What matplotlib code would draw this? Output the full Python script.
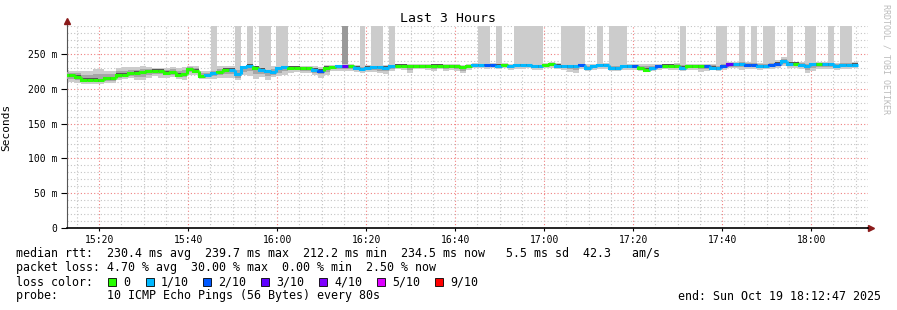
import numpy as np
import matplotlib
matplotlib.use("Agg")
import matplotlib.pyplot as plt
from matplotlib.patches import Rectangle

# x axis is minutes after 15:00, window ends 18:12:47
x_start = 12 + 47 / 60
x_end = x_start + 180
step = 80 / 60              # one ping round every 80 s
first_end = 13 + 11 / 60    # end of the first (clipped) round

# median rtt per round (ms)
median = [219, 219, 217, 213, 213, 213, 212, 215, 215, 220, 220, 222, 223, 224, 225, 226, 226, 223, 224, 220,
          221, 228, 226, 218, 219, 222, 224, 227, 227, 221, 231, 233, 230, 227, 225, 224, 229, 231, 230, 230,
          229, 229, 227, 226, 230, 231, 232, 232, 232, 230, 228, 230, 231, 231, 230, 232, 233, 233, 232, 232,
          232, 232, 233, 233, 232, 232, 232, 231, 232, 234, 234, 234, 234, 233, 234, 232, 234, 234, 234, 232,
          232, 234, 235, 233, 232, 232, 232, 234, 229, 232, 234, 234, 229, 229, 232, 232, 232, 229, 227, 229,
          232, 233, 233, 232, 230, 232, 232, 232, 232, 230, 229, 232, 235, 235, 235, 234, 234, 232, 232, 234,
          236, 239.7, 236, 236, 234, 232, 235, 235, 235, 235, 232, 234, 234, 234.5]

# lost pings out of 10 per round
loss = [0, 0, 0, 0, 0, 0, 0, 0, 0, 0, 0, 0, 0, 0, 0, 0, 0, 0, 0, 0,
        0, 0, 0, 0, 1, 1, 0, 0, 1, 1, 1, 1, 0, 1, 1, 1, 1, 1, 0, 0,
        0, 0, 1, 2, 0, 0, 1, 3, 0, 1, 1, 1, 1, 1, 1, 1, 0, 0, 0, 0,
        0, 0, 0, 0, 0, 0, 0, 0, 0, 1, 1, 2, 2, 1, 0, 1, 1, 1, 1, 1,
        1, 0, 0, 1, 1, 1, 1, 2, 1, 1, 1, 1, 1, 1, 1, 1, 2, 0, 0, 1,
        2, 0, 0, 0, 1, 0, 0, 0, 2, 1, 1, 2, 3, 1, 1, 2, 2, 1, 1, 2,
        2, 1, 1, 0, 1, 1, 1, 0, 1, 1, 1, 1, 1, 1]

# smoke: lowest and highest ping of the round (ms)
lo = [210, 209, 208, 207, 207, 207, 207, 208, 208, 212, 214, 215, 213, 212, 215, 218, 216, 216, 217, 214,
      213, 220, 219, 214, 214, 214, 215, 216, 215, 212, 219, 218, 214, 217, 213, 217, 218, 220, 223, 224,
      222, 223, 220, 216, 220, 225, 226, 226, 226, 224, 222, 224, 224, 222, 221, 226, 228, 227, 223, 228,
      228, 227, 225, 228, 226, 227, 226, 222, 227, 229, 229, 228, 229, 228, 229, 227, 228, 228, 229, 227,
      227, 229, 230, 228, 227, 224, 223, 228, 226, 227, 228, 228, 226, 226, 227, 227, 227, 226, 224, 226,
      227, 228, 227, 227, 226, 227, 227, 224, 226, 227, 225, 227, 229, 229, 227, 228, 228, 227, 228, 228,
      230, 232, 229, 229, 228, 223, 226, 228, 228, 228, 227, 228, 228, 229]
hi = [227, 226, 226, 226, 226, 228, 228, 226, 225, 229, 231, 231, 231, 232, 231, 230, 230, 230, 231, 229,
      231, 233, 232, 225, 226, 228, 232, 232, 233, 232, 233, 234, 232, 230, 229, 232, 233, 234, 233, 233,
      232, 233, 232, 231, 234, 234, 234, 236, 235, 234, 233, 234, 234, 233, 234, 235, 236, 236, 235, 235,
      235, 236, 236, 235, 235, 235, 235, 234, 235, 237, 237, 237, 237, 237, 237, 236, 237, 237, 236, 236,
      236, 237, 238, 237, 236, 236, 236, 237, 236, 236, 237, 237, 236, 235, 236, 236, 236, 236, 236, 236,
      236, 236, 236, 237, 236, 236, 236, 236, 236, 236, 235, 237, 238, 238, 240, 238, 238, 237, 238, 238,
      241, 246, 240, 239, 238, 237, 238, 238, 238, 238, 237, 238, 238, 238]

# rounds with an outlier ping above the top of the graph
spikes = [25, 29, 31, 33, 34, 36, 37, 50, 52, 53, 55, 70, 71, 73, 76, 77, 78, 79, 80,
          84, 85, 86, 87, 90, 92, 93, 94, 104, 110, 111, 114, 116, 118, 119, 122, 125, 126, 129, 131, 132]
dark_spikes = [47]

loss_colors = {0: "#26ff00", 1: "#00b8ff", 2: "#0059ff", 3: "#5e00ff",
               4: "#7e00ff", 5: "#dd00ff", 9: "#ff0000"}
legend_items = [(0, "0"), (1, "1/10"), (2, "2/10"), (3, "3/10"), (4, "4/10"), (5, "5/10"), (9, "9/10")]

y_top = 290
mono = "DejaVu Sans Mono"
plt.rcParams["font.family"] = mono

W, H = 897, 310
fig = plt.figure(figsize=(W / 100, H / 100), dpi=100)
ax = fig.add_axes([67 / W, 82 / H, 801 / W, 202 / H])

median = np.array(median, dtype=float)
lo = np.array(lo, dtype=float)
hi = np.array(hi, dtype=float)
n = len(median)
left = first_end + (np.arange(n) - 1) * step

# smoke layers
ax.bar(left, hi - lo, bottom=lo, width=step, align="edge", color="#cccccc", linewidth=0, zorder=2)
ax.bar(left[spikes], y_top + 10 - hi[spikes], bottom=hi[spikes], width=step, align="edge",
       color="#cccccc", linewidth=0, zorder=2)
ax.bar(left[dark_spikes], y_top + 10 - hi[dark_spikes], bottom=hi[dark_spikes], width=step, align="edge",
       color="#999999", linewidth=0, zorder=2)
in_lo = median - (median - lo) * 0.55
in_hi = median + (hi - median) * 0.55
ax.bar(left, in_hi - in_lo, bottom=in_lo, width=step, align="edge", color="#a6a6a6", linewidth=0, zorder=3)
ax.bar(left, np.full(n, 4.0), bottom=median - 2.0, width=step, align="edge", color="#555555",
       linewidth=0, zorder=4)

# median line coloured by loss
for j in range(n):
    c = loss_colors[loss[j]]
    x0, x1 = left[j], left[j] + step
    if j > 0:
        ax.plot([x0, x0, x1], [median[j - 1], median[j], median[j]], color=c, lw=2.2,
                solid_capstyle="butt", solid_joinstyle="miter", zorder=5)
    else:
        ax.plot([x0, x1], [median[j], median[j]], color=c, lw=2.2, solid_capstyle="butt", zorder=5)

ax.set_xlim(x_start, x_end)
ax.set_ylim(0, y_top)

xt = list(range(20, 181, 20))
ax.set_xticks(xt)
ax.set_xticklabels(["15:20", "15:40", "16:00", "16:20", "16:40", "17:00", "17:20", "17:40", "18:00"])
ax.set_xticks(list(range(15, 193, 5)), minor=True)
yt = [0, 50, 100, 150, 200, 250]
ax.set_yticks(yt)
ax.set_yticklabels(["0", "50 m", "100 m", "150 m", "200 m", "250 m"])
ax.set_yticks(list(range(10, 291, 10)), minor=True)

ax.grid(which="minor", color="#c4c4c4", linestyle=(0, (1, 2)), linewidth=0.8)
ax.grid(which="major", color="#f08080", linestyle=(0, (1, 2)), linewidth=0.8)
ax.set_axisbelow(True)

ax.tick_params(which="both", labelsize=7, colors="#000000")
ax.tick_params(axis="x", which="major", length=2, pad=3)
ax.tick_params(axis="y", which="major", length=4, pad=3)
ax.tick_params(which="minor", length=0)

for s in ["top", "right"]:
    ax.spines[s].set_visible(False)
ax.spines["left"].set_color("#555555")
ax.spines["left"].set_linewidth(0.8)
ax.spines["bottom"].set_color("#000000")
ax.spines["bottom"].set_linewidth(1.2)

# axis arrows
ax.plot([0, 0], [1, 1.025], color="#555555", lw=0.8, transform=ax.transAxes, clip_on=False)
ax.plot(0, 1.025, marker="^", color="#8b1a1a", ms=4, transform=ax.transAxes, clip_on=False)
ax.plot([1, 1.003], [0, 0], color="#000000", lw=1.2, transform=ax.transAxes, clip_on=False)
ax.plot(1.004, 0, marker=">", color="#8b1a1a", ms=4, transform=ax.transAxes, clip_on=False)

ax.set_ylabel("Seconds", fontsize=8, labelpad=6)
ax.yaxis.set_label_coords(-56 / 801, 0.5)


def ftext(x, y, s, **kw):
    fig.text(x / W, 1 - y / H, s, va="center", fontfamily=mono, **kw)


ftext(448, 19, "Last 3 Hours", ha="center", fontsize=9.5)
fig.text(886 / W, 1 - 4 / H, "RRDTOOL / TOBI OETIKER", rotation=270, ha="center", va="top",
         fontsize=6, color="#bbbbbb", fontfamily=mono)

fs = 8.4
ftext(16, 254, "median rtt:  230.4 ms avg  239.7 ms max  212.2 ms min  234.5 ms now   5.5 ms sd  42.3   am/s",
      ha="left", fontsize=fs)
ftext(16, 268, "packet loss: 4.70 % avg  30.00 % max  0.00 % min  2.50 % now", ha="left", fontsize=fs)
ftext(16, 282, "loss color:", ha="left", fontsize=fs)
box_x = [108, 146, 203, 261, 319, 377, 435]
for bx, (k, lab) in zip(box_x, legend_items):
    fig.patches.append(Rectangle((bx / W, 1 - 286 / H), 8 / W, 8 / H, transform=fig.transFigure,
                                 facecolor=loss_colors[k], edgecolor="#000000", linewidth=0.6))
    ftext(bx + 15, 282, lab, ha="left", fontsize=fs)
ftext(16, 296, "probe:       10 ICMP Echo Pings (56 Bytes) every 80s", ha="left", fontsize=fs)
ftext(881, 296, "end: Sun Oct 19 18:12:47 2025", ha="right", fontsize=fs)

fig.savefig("out.png", dpi=100)
